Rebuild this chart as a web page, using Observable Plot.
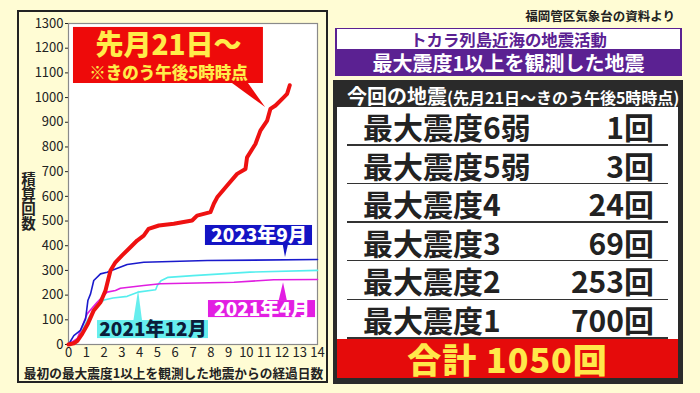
<!DOCTYPE html>
<html><head><meta charset="utf-8">
<script src="https://cdn.jsdelivr.net/npm/d3@7"></script>
<script src="https://cdn.jsdelivr.net/npm/@observablehq/plot@0.6"></script>
<style>
body{margin:0;}
#wrap{position:relative;width:700px;height:393px;background:#fffcd4;overflow:hidden;font-family:"Noto Sans CJK JP","Noto Sans",sans-serif;}
#chart{position:absolute;left:17px;top:10px;}
#chartBorder{position:absolute;left:17px;top:10px;width:311px;height:373px;box-sizing:border-box;border:2px solid #222;pointer-events:none;}
.abs{position:absolute;white-space:nowrap;}
</style></head>
<body><div id="wrap">
<div id="chart"></div><div id="chartBorder"></div>
<div id="panel"></div>
</div>
<script>
// ---- data ----
const xTicks = [0,1,2,3,4,5,6,7,8,9,10,11,12,13,14];
const yTicks = [0,100,200,300,400,500,600,700,800,900,1000,1100,1200,1300];

const redDays   = [0,0.3,0.5,0.77,1.09,1.42,1.8,2.08,2.36,2.64,3.0,3.48,3.86,4.23,4.5,5.08,5.92,6.95,7.23,7.98,8.17,8.36,8.92,9.48,9.95,10.04,10.51,10.79,11.17,11.35,11.64,12.1,12.29,12.44];
const redCounts = [0,5,15,43,84,138,171,219,300,333,360,394,421,441,468,482,489,502,522,536,570,596,644,691,711,758,812,866,907,954,968,1001,1015,1050];

const sep2023Days   = [0,0.3,0.67,0.96,1.09,1.24,1.42,1.8,2.17,2.64,3.3,4.23,7.8,14];
const sep2023Counts = [0,36,57,104,178,205,259,286,293,306,324,333,340,344];

const dec2021Days   = [0,0.5,1.0,1.5,2.0,2.5,3.3,3.9,4.9,5.0,5.2,5.6,7.0,10.2,14];
const dec2021Counts = [0,20,90,155,180,188,195,212,222,240,258,272,279,293,300];

const apr2021Days   = [0,0.5,1.05,1.61,2.17,2.64,2.92,4.23,5.17,9.3,11.54,14];
const apr2021Counts = [0,25,124,171,212,219,228,239,246,252,262,263];

const levels = ["最大震度6弱","最大震度5弱","最大震度4","最大震度3","最大震度2","最大震度1"];
const levelCounts = [1,3,24,69,253,700];

const yLabel = "積算回数";
const xLabel = "最初の最大震度1以上を観測した地震からの経過日数";

const toPts = (ds, cs) => ds.map((d,i)=>({day:d, n:cs[i]}));

// ---- annotation layout (data units) ----
const callouts = [
  {lines:[{t:"先月21日〜",x:5.62,y:1210,size:28},{t:"※きのう午後5時時点",x:5.62,y:1097,size:16.5}],
   box:[0.28,10.96,1057,1284], fill:"#ee0a0a", color:"#ffec4a",
   ptr:[{y:1057,x1:9.22,x2:10.12},{y:960,x1:11.08,x2:11.08}]},
  {lines:[{t:"2023年9月",x:10.71,y:441,size:19}], box:[7.70,13.72,401,482], fill:"#1414c4", color:"#ffffff",
   ptr:[{y:401,x1:12.08,x2:12.36},{y:352,x1:12.2,x2:12.2}]},
  {lines:[{t:"2021年4月",x:10.88,y:142,size:19}], box:[7.87,13.89,109,178], fill:"#e21ee2", color:"#ffffff",
   ptr:[{y:178,x1:11.85,x2:12.3},{y:250,x1:12.09,x2:12.09}]},
  {lines:[{t:"2021年12月",x:4.75,y:61,size:19}], box:[1.63,7.87,24,97], fill:"#66eeee", color:"#0b1d3a",
   ptr:[{y:97,x1:3.68,x2:4.16},{y:219,x1:3.94,x2:3.94}]}
];

const marks = [
  Plot.frame({fill:"white", stroke:"#8a8a8a", strokeWidth:1.2}),
  Plot.line(toPts(dec2021Days, dec2021Counts), {x:"day", y:"n", stroke:"#55eeee", strokeWidth:1.6}),
  Plot.line(toPts(apr2021Days, apr2021Counts), {x:"day", y:"n", stroke:"#e01ee0", strokeWidth:1.6}),
  Plot.line(toPts(sep2023Days, sep2023Counts), {x:"day", y:"n", stroke:"#1a1acc", strokeWidth:1.6}),
  Plot.line(toPts(redDays, redCounts), {x:"day", y:"n", stroke:"#ee1111", strokeWidth:4, strokeLinejoin:"round", strokeLinecap:"round"})
];
for (const c of callouts) {
  marks.push(Plot.areaX(c.ptr, {y:"y", x1:"x1", x2:"x2", fill:c.fill}));
  marks.push(Plot.rect([c.box], {x1:d=>d[0], x2:d=>d[1], y1:d=>d[2], y2:d=>d[3], fill:c.fill}));
  for (const l of c.lines) {
    marks.push(Plot.text([l], {x:"x", y:"y", text:"t", fill:c.color, fontSize:l.size, fontWeight:900}));
  }
}
marks.push(Plot.text([yLabel], {frameAnchor:"left", textAnchor:"middle", lineAnchor:"middle", text:d=>d, dx:-40, dy:13, fontSize:14.5, fontWeight:700, fill:"#222"}));
marks.push(Plot.text([xLabel], {frameAnchor:"bottom", textAnchor:"middle", lineAnchor:"middle", text:d=>d, dx:-19.5, dy:29, fontSize:12.7, fontWeight:700, fill:"#222"}));

const chart = Plot.plot({
  width:311, height:373, marginLeft:51, marginRight:11, marginTop:13, marginBottom:39,
  style:{background:"transparent", fontFamily:"'Noto Sans CJK JP', sans-serif", fontSize:"13px", color:"#222"},
  x:{domain:[0,14], ticks:xTicks, tickSize:0, tickPadding:3, label:null, tickFormat:d=>String(d)},
  y:{domain:[0,1300], ticks:yTicks, tickSize:3, tickPadding:2, label:null, tickFormat:d=>String(d)},
  marks
});
// set the y label in vertical writing (stacked characters, as in the reference)
d3.select(chart).selectAll("text").filter(function(){ return this.textContent === yLabel; })
  .style("writing-mode","vertical-rl").attr("dy", null);
document.getElementById("chart").appendChild(chart);

// ---- right panel ----
const P = document.getElementById("panel");
function el(html, css){ const d=document.createElement("div"); d.className="abs"; d.innerHTML=html; d.style.cssText+=css; P.appendChild(d); return d; }
el("福岡管区気象台の資料より","left:523px;top:6px;width:152px;text-align:right;font-size:12.5px;font-weight:700;color:#222;line-height:20px;");
el("","left:335px;top:28px;width:347px;height:48px;background:#5b2192;");
el("トカラ列島近海の地震活動","left:337px;top:29px;width:343px;height:20px;background:#fff;color:#5b2192;text-align:center;font-size:16.4px;font-weight:700;line-height:21px;");
el("最大震度1以上を観測した地震","left:335px;top:50px;width:347px;height:26px;color:#fff;text-align:center;font-size:20px;font-weight:700;line-height:26px;");
el("","left:333px;top:80px;width:350px;height:304px;background:#2a2a2a;");
el('今回の地震<span style="font-size:16px">(先月21日〜きのう午後5時時点)</span>',"left:347px;top:84px;font-size:20px;font-weight:700;color:#fff;line-height:24px;");
el("","left:337px;top:107px;width:341px;height:232px;background:#fff;");
const rowTop = 107, rowH = 38.6;
levels.forEach((lv,i)=>{
  el(lv, `left:363px;top:${rowTop+i*rowH}px;height:${rowH}px;line-height:${rowH}px;font-size:30px;font-weight:700;color:#222;`);
  el(levelCounts[i]+"回", `left:520px;width:134px;text-align:right;top:${rowTop+i*rowH}px;height:${rowH}px;line-height:${rowH}px;font-size:30px;font-weight:700;color:#222;`);
  el("", `left:347px;top:${rowTop+(i+1)*rowH-1.5}px;width:321px;height:1.5px;background:#333;`);
});
const total = d3.sum(levelCounts);
el("合計 "+total+"回","left:337px;top:339px;width:341px;height:39px;background:#e50b0b;color:#ffe84a;text-align:center;font-size:34px;font-weight:900;letter-spacing:1px;line-height:39px;");
</script>
</body></html>
